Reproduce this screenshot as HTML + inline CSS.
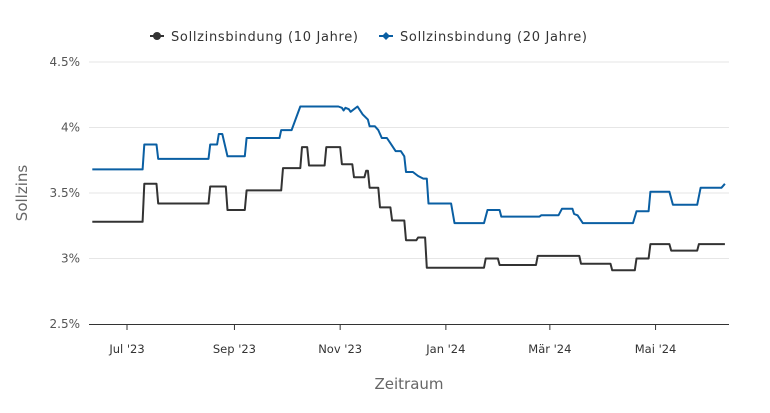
<!DOCTYPE html>
<html><head><meta charset="utf-8"><style>
body{margin:0;background:#fff;font-family:"DejaVu Sans","Liberation Sans",sans-serif}
svg text{font-family:"DejaVu Sans","Liberation Sans",sans-serif}
</style></head><body>
<svg id="chart" width="770" height="409" viewBox="0 0 770 409" xmlns="http://www.w3.org/2000/svg">
<g id="grid"></g>
<g id="yaxis"></g>
<g id="xaxis"></g>
<g id="series"></g>
<g>
 <g>
  <line x1="150" y1="36" x2="164" y2="36" stroke="#333" stroke-width="2"/>
  <circle cx="157" cy="36" r="4" fill="#333"/>
  <text x="171" y="41" font-size="13" textLength="187" fill="#333">Sollzinsbindung (10 Jahre)</text>
 </g>
 <g>
  <line x1="379" y1="36" x2="393" y2="36" stroke="#0a5fa3" stroke-width="2"/>
  <path d="M386 32 L390 36 L386 40 L382 36 Z" fill="#0a5fa3"/>
  <text x="400" y="41" font-size="13" textLength="187" fill="#333">Sollzinsbindung (20 Jahre)</text>
 </g>
</g>
<text transform="translate(27,193) rotate(-90)" text-anchor="middle" font-size="15" fill="#666">Sollzins</text>
<text x="409" y="389" text-anchor="middle" font-size="15" fill="#666">Zeitraum</text>
</svg>
<script>
// day offsets from 2023-06-09
const days10 = [2,31,32,39,40,69,70,79,80,90,91,111,112,122,123,126,127,136,137,145,146,152,153,159,160,161,162,167,168,174,175,182,183,189,190,194,195,228,229,236,237,258,259,283,284,301,302,315,316,323,324,335,336,351,352,367];
const vals10 = [3.28,3.28,3.57,3.57,3.42,3.42,3.55,3.55,3.37,3.37,3.52,3.52,3.69,3.69,3.85,3.85,3.71,3.71,3.85,3.85,3.72,3.72,3.62,3.62,3.67,3.67,3.54,3.54,3.39,3.39,3.29,3.29,3.14,3.14,3.16,3.16,2.93,2.93,3.00,3.00,2.95,2.95,3.02,3.02,2.96,2.96,2.91,2.91,3.00,3.00,3.11,3.11,3.06,3.06,3.11,3.11];
const days20 = [2,31,32,39,40,69,70,74,75,77,80,90,91,110,111,117,122,144,146,147,148,150,151,155,158,161,162,165,167,169,172,174,177,180,182,183,187,190,193,195,196,209,211,228,230,237,238,260,261,271,273,279,280,282,285,314,316,323,324,335,337,351,353,365,367];
const vals20 = [3.68,3.68,3.87,3.87,3.76,3.76,3.87,3.87,3.95,3.95,3.78,3.78,3.92,3.92,3.98,3.98,4.16,4.16,4.15,4.13,4.15,4.14,4.12,4.16,4.10,4.06,4.01,4.01,3.98,3.92,3.92,3.88,3.82,3.82,3.78,3.66,3.66,3.63,3.61,3.61,3.42,3.42,3.27,3.27,3.37,3.37,3.32,3.32,3.33,3.33,3.38,3.38,3.34,3.33,3.27,3.27,3.36,3.36,3.51,3.51,3.41,3.41,3.54,3.54,3.57];
const yTicks = [2.5,3,3.5,4,4.5];
const yTickLabels = ['2.5%','3%','3.5%','4%','4.5%'];
const xTickDays = [22,84,145,206,266,327];
const xTickLabels = ["Jul '23","Sep '23","Nov '23","Jan '24","Mär '24","Mai '24"];

const NS='http://www.w3.org/2000/svg';
const X0=89, X1=729, Y0=324, Y1=62;
const x = d => 127 + (d-22)*1.733;
const y = v => Y0 - (v-2.5)/2*(Y0-Y1);
function mk(tag, attrs, parent){const e=document.createElementNS(NS,tag);for(const k in attrs)e.setAttribute(k,attrs[k]);parent.appendChild(e);return e;}
const grid=document.getElementById('grid'), ya=document.getElementById('yaxis'), xa=document.getElementById('xaxis'), se=document.getElementById('series');
yTicks.forEach((t,i)=>{
  if(i>0){const l=mk('line',{x1:X0,x2:X1,y1:y(t),y2:y(t),stroke:'#e6e6e6','stroke-width':1},grid);
  
  }
  const tx=mk('text',{x:80,y:y(t)+4,'text-anchor':'end','font-size':12,fill:'#555'},ya);
  tx.textContent=yTickLabels[i];
  
  
});
const ax=mk('line',{x1:X0,x2:X1,y1:Y0+0.5,y2:Y0+0.5,stroke:'#333','stroke-width':1},xa);


xTickDays.forEach((d,i)=>{
  const tk=mk('line',{x1:x(d),x2:x(d),y1:Y0,y2:Y0+6,stroke:'#333','stroke-width':1},xa);
  
  
  const tx=mk('text',{x:x(d),y:Y0+29,'text-anchor':'middle','font-size':11.5,fill:'#333'},xa);
  tx.textContent=xTickLabels[i];
  
  
});
function line(ds,vs,color,name){
  const p=ds.map((d,i)=>(i?'L':'M')+x(d).toFixed(1)+' '+y(vs[i]).toFixed(1)).join(' ');
  const e=mk('path',{d:p,fill:'none',stroke:color,'stroke-width':2,'stroke-linejoin':'round'},se);
  
  
}
line(days20,vals20,'#0a5fa3','line-20-jahre');
line(days10,vals10,'#333333','line-10-jahre');
</script>
</body></html>
